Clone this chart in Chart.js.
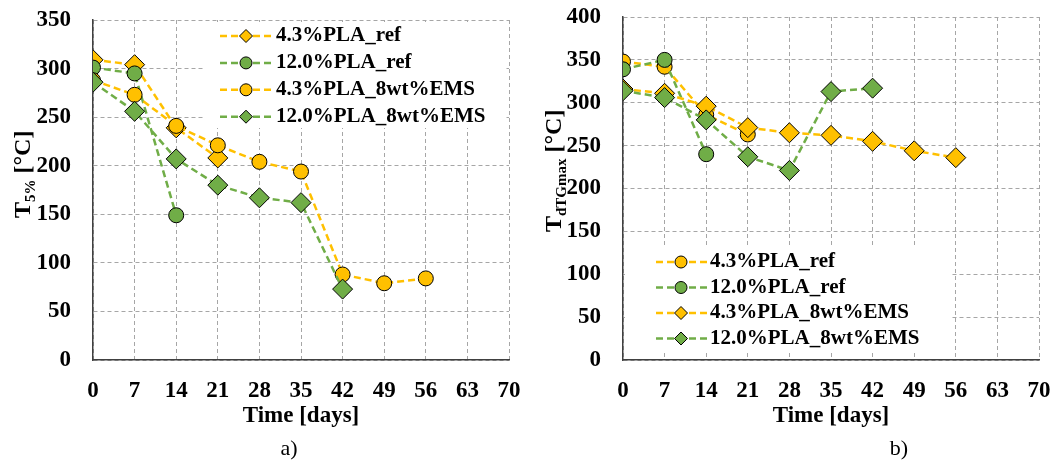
<!DOCTYPE html>
<html>
<head>
<meta charset="utf-8">
<title>T5% / TdTGmax vs time</title>
<script src="https://cdn.jsdelivr.net/npm/chart.js"></script>
<style>
  body { margin: 0; background: white; width: 1051px; height: 462px; overflow: hidden; position: relative; }
  canvas { position: absolute; top: 0; }
  #chartA { left: 0; }
  #chartB { left: 530px; }
</style>
</head>
<body>
<canvas id="chartA" width="525" height="462"></canvas>
<canvas id="chartB" width="521" height="462"></canvas>
<script>
// sampling days
const days = [0, 7, 14, 21, 28, 35, 42, 49, 56];
const seriesLabels = ['4.3%PLA_ref', '12.0%PLA_ref', '4.3%PLA_8wt%EMS', '12.0%PLA_8wt%EMS'];

// a) T5% [°C]
const t5_pla43_ref = [309, 304, 239, 208];
const t5_pla12_ref = [301, 295, 149];
const t5_pla43_ems = [288, 273, 241, 221, 204, 194, 88, 79, 84];
const t5_pla12_ems = [286, 256, 207, 180, 167, 162, 73];

// b) TdTGmax [°C]
const tg_pla43_ref = [348, 342, 286, 263];
const tg_pla12_ref = [339, 350, 240];
const tg_pla43_ems = [316, 311, 296, 271, 265, 262, 255, 244, 236];
const tg_pla12_ems = [314, 306, 280, 237, 221, 313, 317];

const YELLOW = '#FFC000';
const GREEN = '#70AD47';
const seriesColors = [YELLOW, GREEN, YELLOW, GREEN];
const SERIF = "'Liberation Serif', 'Times New Roman', serif";

function toPoints(vals) {
    return vals.map((v, i) => ({ x: days[i], y: v }));
}

function makeDatasets(valueLists, markers) {
    return valueLists.map((vals, i) => ({
        label: seriesLabels[i],
        data: toPoints(vals),
        showLine: true,
        borderColor: seriesColors[i],
        borderWidth: 2.5,
        borderDash: [7, 4],
        pointStyle: markers[i],
        pointRadius: markers[i] === 'circle' ? 7.5 : 10,
        pointBackgroundColor: seriesColors[i],
        pointBorderColor: '#000',
        pointBorderWidth: 1,
        order: 4 - i   // later series drawn on top
    }));
}

function drawMarker(ctx, style, x, y, r, fill) {
    ctx.save();
    ctx.setLineDash([]);
    ctx.fillStyle = fill;
    ctx.strokeStyle = '#000';
    ctx.lineWidth = 1;
    ctx.beginPath();
    if (style === 'circle') {
        ctx.arc(x, y, r, 0, Math.PI * 2);
    } else {
        r += 0.5;
        ctx.moveTo(x, y - r);
        ctx.lineTo(x + r, y);
        ctx.lineTo(x, y + r);
        ctx.lineTo(x - r, y);
        ctx.closePath();
    }
    ctx.fill();
    ctx.stroke();
    ctx.restore();
}

// legend box, rotated y title with subscript and panel caption
function decorPlugin(cfg) {
    return {
        id: 'decor',
        beforeDatasetsDraw(chart) {
            const ctx = chart.ctx;
            const b = cfg.box;
            ctx.save();
            ctx.fillStyle = '#fff';
            ctx.fillRect(b[0], b[1], b[2] - b[0], b[3] - b[1]);
            ctx.restore();
        },
        afterDraw(chart) {
            const ctx = chart.ctx;
            const lg = cfg.legend;
            chart.data.datasets.forEach((ds, i) => {
                const y = lg.y0 + i * lg.step;
                ctx.save();
                ctx.strokeStyle = ds.borderColor;
                ctx.lineWidth = 2.5;
                ctx.setLineDash([7, 4]);
                ctx.beginPath();
                ctx.moveTo(lg.lineX0, y);
                ctx.lineTo(lg.lineX1, y);
                ctx.stroke();
                ctx.restore();
                drawMarker(ctx, ds.pointStyle, lg.markerX, y, 6, ds.borderColor);
                ctx.save();
                ctx.fillStyle = '#000';
                ctx.font = 'bold 21px ' + SERIF;
                ctx.textBaseline = 'middle';
                ctx.textAlign = 'left';
                ctx.fillText(ds.label, lg.textX, y);
                ctx.restore();
            });

            // y axis title, rotated, with subscript
            const t = cfg.yTitle;
            ctx.save();
            ctx.translate(t.x, t.y);
            ctx.rotate(-Math.PI / 2);
            ctx.fillStyle = '#000';
            ctx.textBaseline = 'alphabetic';
            ctx.textAlign = 'left';
            ctx.font = 'bold 24px ' + SERIF;
            let pos = 0;
            ctx.fillText(t.main, pos, 0);
            pos += ctx.measureText(t.main).width;
            ctx.font = 'bold 15px ' + SERIF;
            ctx.fillText(t.sub, pos, 5);
            pos += ctx.measureText(t.sub).width;
            ctx.font = 'bold 24px ' + SERIF;
            ctx.fillText(t.rest, pos, 0);
            ctx.restore();

            // caption
            ctx.save();
            ctx.fillStyle = '#000';
            ctx.font = '22px ' + SERIF;
            ctx.textAlign = 'center';
            ctx.textBaseline = 'middle';
            ctx.fillText(cfg.caption.text, cfg.caption.x, cfg.caption.y);
            ctx.restore();
        }
    };
}

function makeOptions(yMax, padTop, padRight) {
    const tickFont = { family: SERIF, size: 23, weight: 'bold' };
    const grid = { color: '#a6a6a6', lineWidth: 1, drawTicks: false };
    const border = { display: true, color: '#404040', width: 1.5, dash: [4, 3] };
    return {
        responsive: false,
        animation: false,
        layout: { padding: { left: 0, right: padRight, top: padTop, bottom: 0 } },
        plugins: { legend: { display: false }, tooltip: { enabled: false } },
        scales: {
            x: {
                type: 'linear',
                min: 0, max: 70,
                ticks: { stepSize: 7, font: tickFont, color: '#000', padding: 17, maxRotation: 0 },
                grid: grid,
                border: border,
                title: { display: true, text: 'Time [days]', font: tickFont, color: '#000', padding: { top: 0, bottom: 32 } },
                afterFit: s => { s.height = 102; s.paddingLeft = 0; s.paddingRight = 0; }
            },
            y: {
                min: 0, max: yMax,
                ticks: { stepSize: 50, font: tickFont, color: '#000', padding: 22 },
                grid: grid,
                border: border,
                afterFit: s => { s.width = 93; s.paddingTop = 0; s.paddingBottom = 0; }
            }
        }
    };
}

new Chart(document.getElementById('chartA'), {
    type: 'scatter',
    data: {
        datasets: makeDatasets(
            [t5_pla43_ref, t5_pla12_ref, t5_pla43_ems, t5_pla12_ems],
            ['rectRot', 'circle', 'circle', 'rectRot'])
    },
    options: makeOptions(350, 20, 16),
    plugins: [decorPlugin({
        box: [205, 22, 505, 128],
        legend: { lineX0: 220, lineX1: 273, markerX: 246, textX: 276, y0: 36, step: 26.9 },
        yTitle: { main: 'T', sub: '5%', rest: ' [°C]', x: 30, y: 218 },
        caption: { text: 'a)', x: 289, y: 449 }
    })]
});

new Chart(document.getElementById('chartB'), {
    type: 'scatter',
    data: {
        datasets: makeDatasets(
            [tg_pla43_ref, tg_pla12_ref, tg_pla43_ems, tg_pla12_ems],
            ['circle', 'circle', 'rectRot', 'rectRot'])
    },
    options: makeOptions(400, 17, 12),
    plugins: [decorPlugin({
        box: [95, 248, 422, 350],
        legend: { lineX0: 126, lineX1: 177, markerX: 151, textX: 180, y0: 262, step: 25.5 },
        yTitle: { main: 'T', sub: 'dTGmax', rest: ' [°C]', x: 31, y: 232 },
        caption: { text: 'b)', x: 369, y: 449 }
    })]
});
</script>
</body>
</html>
